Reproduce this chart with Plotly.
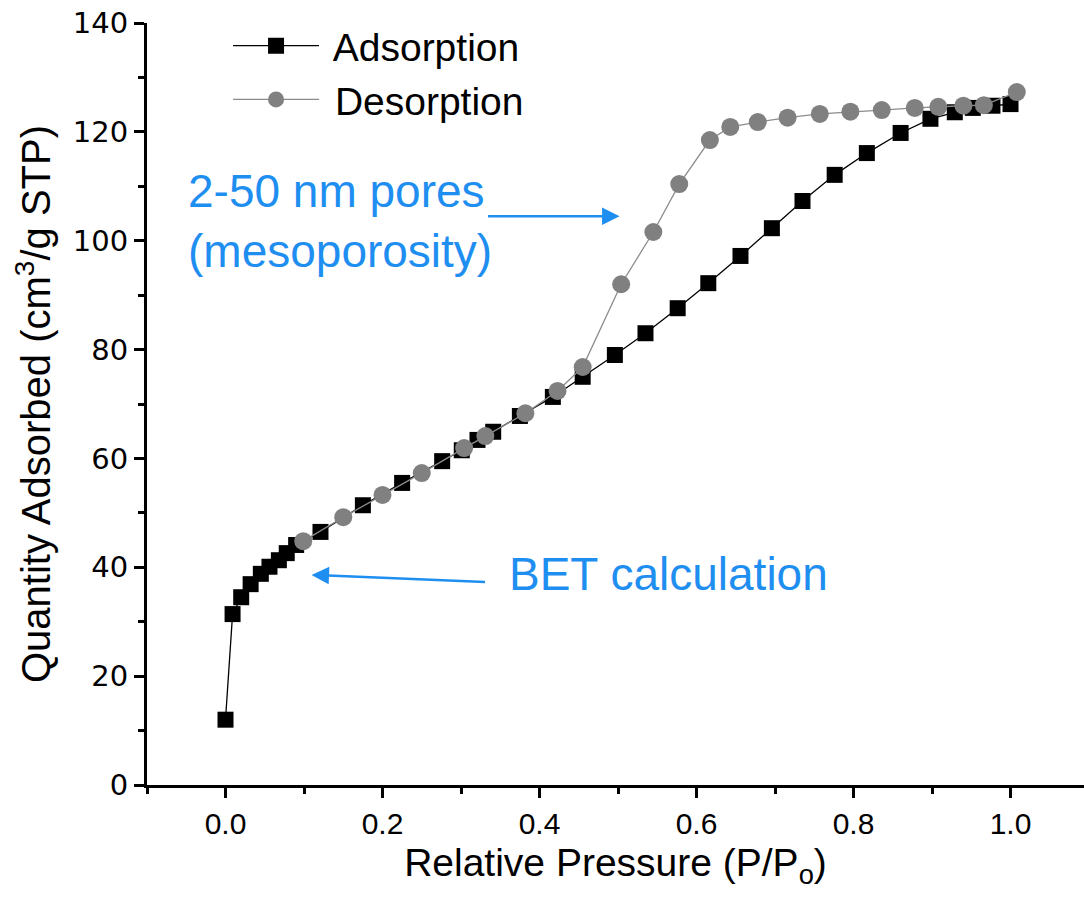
import plotly.graph_objects as go

# Adsorption branch
ads_p = [0.000, 0.009, 0.020, 0.032, 0.045, 0.056, 0.068, 0.078, 0.090, 0.121,
         0.175, 0.225, 0.276, 0.301, 0.321, 0.341, 0.375, 0.417, 0.455, 0.496,
         0.535, 0.576, 0.615, 0.656, 0.696, 0.735, 0.776, 0.817, 0.860, 0.898,
         0.929, 0.952, 0.977, 1.000]
ads_q = [12.0, 31.4, 34.5, 36.9, 38.8, 40.1, 41.3, 42.6, 44.1, 46.5,
         51.4, 55.5, 59.5, 61.5, 63.4, 64.9, 67.8, 71.3, 75.0, 79.0,
         83.0, 87.6, 92.2, 97.2, 102.3, 107.3, 112.1, 116.1, 119.8, 122.4,
         123.6, 124.4, 124.8, 125.1]

# Desorption branch
des_p = [1.008, 0.966, 0.940, 0.908, 0.878, 0.836, 0.796, 0.757, 0.716, 0.678,
         0.643, 0.617, 0.578, 0.545, 0.504, 0.455, 0.423, 0.382, 0.331, 0.304,
         0.250, 0.200, 0.150, 0.099]
des_q = [127.3, 124.9, 124.8, 124.6, 124.4, 124.0, 123.7, 123.3, 122.6, 121.8,
         120.9, 118.5, 110.4, 101.6, 92.0, 76.8, 72.4, 68.3, 64.1, 61.9,
         57.3, 53.3, 49.2, 44.8]

x_ticks = [0.0, 0.2, 0.4, 0.6, 0.8, 1.0]
y_ticks = [0, 20, 40, 60, 80, 100, 120, 140]

BLUE = "#1f8ef1"
FONT = "Liberation Sans, Arial, sans-serif"

fig = go.Figure()
fig.add_trace(go.Scatter(
    x=ads_p, y=ads_q, mode="lines+markers", name=" Adsorption",
    line=dict(color="black", width=1.3),
    marker=dict(symbol="square", size=16, color="black"),
    legendgroup="a",
))
fig.add_trace(go.Scatter(
    x=des_p, y=des_q, mode="lines+markers", name=" Desorption",
    line=dict(color="#8c8c8c", width=1.3),
    marker=dict(symbol="circle", size=18, color="#808080"),
    legendgroup="d",
))

# Annotations
fig.add_annotation(x=-0.05, y=103.6, xref="x", yref="y",
                   text="2-50 nm pores<br>(mesoporosity)", showarrow=False,
                   xanchor="left", yanchor="middle", align="left",
                   font=dict(family=FONT, size=46, color=BLUE))
fig.add_annotation(x=0.502, y=104.5, ax=0.3325, ay=104.5,
                   xref="x", yref="y", axref="x", ayref="y",
                   text="", showarrow=True, arrowhead=2, arrowsize=1.4,
                   arrowwidth=2.5, arrowcolor=BLUE)
fig.add_annotation(x=0.358, y=38.8, xref="x", yref="y",
                   text="BET calculation", showarrow=False,
                   xanchor="left", yanchor="middle",
                   font=dict(family=FONT, size=46, color=BLUE))
fig.add_annotation(x=0.1096, y=38.6, ax=0.3325, ay=37.3,
                   xref="x", yref="y", axref="x", ayref="y",
                   text="", showarrow=True, arrowhead=2, arrowsize=1.4,
                   arrowwidth=2.5, arrowcolor=BLUE)

fig.update_layout(
    width=1084, height=910,
    margin=dict(l=147, r=0, t=23, b=125),
    paper_bgcolor="white", plot_bgcolor="white",
    font=dict(family=FONT, color="black"),
    showlegend=True,
    legend=dict(x=0.0865, y=1.012, xanchor="left", yanchor="top",
                font=dict(family=FONT, size=39, color="black"),
                itemwidth=86, tracegroupgap=0, bgcolor="rgba(0,0,0,0)"),
    xaxis=dict(
        range=[-0.1, 1.0936], showgrid=False, zeroline=False,
        showline=True, linecolor="black", linewidth=3,
        tickmode="array", tickvals=x_ticks, ticktext=[f"{v:.1f}" for v in x_ticks],
        ticks="outside", ticklen=10, tickwidth=2.5, tickcolor="black",
        minor=dict(dtick=0.1, tick0=-0.1, ticks="outside", ticklen=6,
                   tickwidth=2.5, tickcolor="black"),
        tickfont=dict(family=FONT, size=30),
        title=dict(text="Relative Pressure (P/P<sub>o</sub>)",
                   font=dict(family=FONT, size=39), standoff=10),
    ),
    yaxis=dict(
        range=[0, 140], showgrid=False, zeroline=False,
        showline=True, linecolor="black", linewidth=3,
        tickmode="array", tickvals=y_ticks, ticktext=[str(v) for v in y_ticks],
        ticks="outside", ticklen=10, tickwidth=2.5, tickcolor="black",
        minor=dict(dtick=10, tick0=0, ticks="outside", ticklen=6,
                   tickwidth=2.5, tickcolor="black"),
        tickfont=dict(family="DejaVu Sans, sans-serif", size=29),
        title=dict(text="Quantity Adsorbed (cm<sup>3</sup>/g STP)",
                   font=dict(family=FONT, size=40), standoff=10),
    ),
)

fig.write_html("out.html")
